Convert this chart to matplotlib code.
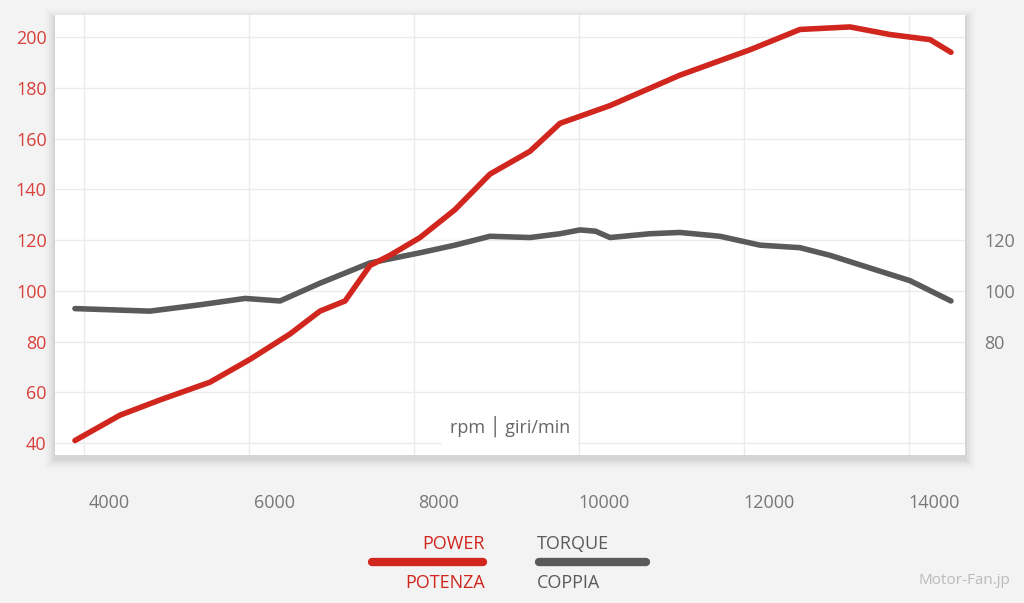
import matplotlib
matplotlib.use("Agg")
import matplotlib.pyplot as plt
from matplotlib.patches import Rectangle
from matplotlib.lines import Line2D

rpm_power = [3890, 4436, 4921, 5527, 6012, 6497, 6860, 7164, 7467, 7709, 8073, 8497, 8921, 9406, 9770, 10376, 11224, 12073, 12679, 13285, 13770, 14255, 14509]
power = [41, 51, 57, 64, 73, 83, 92, 96, 110, 114, 121, 132, 146, 155, 166, 173, 185, 195, 203, 204, 201, 199, 194]
rpm_torque = [3890, 4800, 5406, 5952, 6376, 6860, 7467, 8073, 8497, 8921, 9406, 9770, 10012, 10200, 10376, 10861, 11224, 11709, 12194, 12679, 13042, 13527, 14012, 14509]
torque = [93, 92, 94.5, 97, 96, 103, 111, 115, 118, 121.5, 121, 122.5, 124, 123.5, 121, 122.5, 123, 121.5, 118, 117, 114, 109, 104, 96]
xticks = [4000, 6000, 8000, 10000, 12000, 14000]
left_ticks = [40, 60, 80, 100, 120, 140, 160, 180, 200]
right_ticks = [80, 100, 120]

RED = "#d0261e"
GRAY = "#5a5a5a"
plt.rcParams['font.family'] = ['Open Sans', 'DejaVu Sans']
fig = plt.figure(figsize=(10.24, 6.03), dpi=100, facecolor="#f3f3f3")
l, r, t, b = 55/1024, 965/1024, 1-15/603, 1-455/603
for i, a in enumerate([0.04, 0.03, 0.02, 0.015, 0.01]):
    d = (i + 1) * 2
    fig.patches.append(Rectangle((l - d/1024, b - (d+4)/603), r - l + 2*d/1024, t - b + 2*d/603,
                                 transform=fig.transFigure, facecolor="black", alpha=a, edgecolor="none", zorder=-5))
ax = fig.add_axes([l, b, r - l, t - b], zorder=2)
ax.set_facecolor("white")
ax.set_xlim(3648, 14679)
ax.set_ylim(35.3, 208.7)
for s in ax.spines.values():
    s.set_visible(False)
ax.set_xticks([v + 303 for v in xticks])
ax.set_xticklabels([str(v) for v in xticks], color="#777777", fontsize=13)
ax.set_xticks(xticks, minor=True)
ax.tick_params(axis="x", which="both", length=0, pad=28)
ax.set_yticks(left_ticks)
ax.set_yticklabels([str(v) for v in left_ticks], color="#d9403a", fontsize=13)
ax.tick_params(axis="y", length=0, pad=6)
ax.grid(True, axis="y", color="#ebebeb", linewidth=1)
ax.grid(True, axis="x", which="minor", color="#ebebeb", linewidth=1)
ax.grid(False, axis="x", which="major")
ax2 = ax.twinx()
ax2.set_ylim(ax.get_ylim())
ax2.set_yticks(right_ticks)
ax2.set_yticklabels([str(v) for v in right_ticks], color="#777777", fontsize=13)
ax2.tick_params(axis="y", length=0, pad=14)
for s in ax2.spines.values():
    s.set_visible(False)

ax.plot(rpm_torque, torque, color=GRAY, lw=4, solid_capstyle="round", solid_joinstyle="round", zorder=3)
ax.plot(rpm_power, power, color=RED, lw=4, solid_capstyle="round", solid_joinstyle="round", zorder=4)

ax.text(0.50, 0.065, "rpm │ giri/min", transform=ax.transAxes, ha="center", va="center",
        fontsize=13, color="#666666", bbox=dict(facecolor="white", edgecolor="none", pad=6), zorder=5)

fig.add_artist(Line2D([372/1024, 483/1024], [1-562/603]*2, color=RED, lw=6, solid_capstyle="round"))
fig.add_artist(Line2D([539/1024, 646/1024], [1-562/603]*2, color=GRAY, lw=6, solid_capstyle="round"))
fig.text(485/1024, 1-544/603, "POWER", color=RED, ha="right", va="center", fontsize=13)
fig.text(485/1024, 1-583/603, "POTENZA", color=RED, ha="right", va="center", fontsize=13)
fig.text(537/1024, 1-544/603, "TORQUE", color=GRAY, ha="left", va="center", fontsize=13)
fig.text(537/1024, 1-583/603, "COPPIA", color=GRAY, ha="left", va="center", fontsize=13)
fig.text(1010/1024, 1-580/603, "Motor-Fan.jp", color="#bbbbbb", ha="right", va="center", fontsize=11)

fig.savefig("out.png", dpi=100, facecolor=fig.get_facecolor())
